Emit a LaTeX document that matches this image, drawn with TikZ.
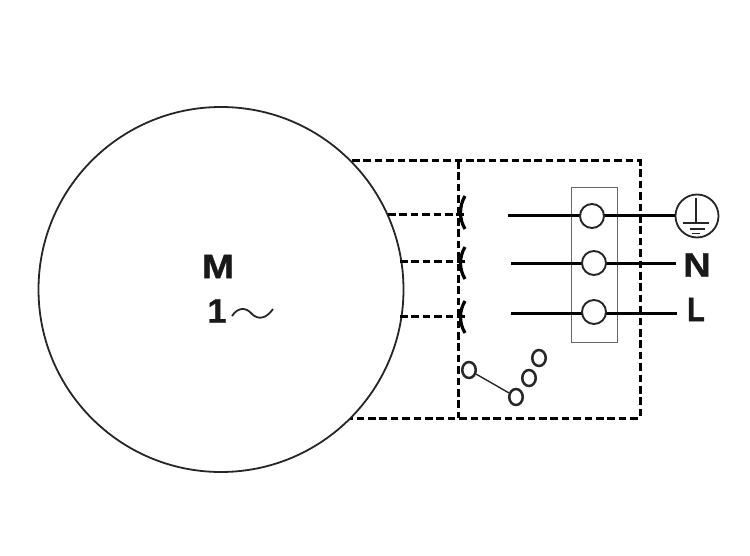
\documentclass[tikz,border=0pt]{standalone}
\usepackage{fontspec}
\setmainfont{Liberation Sans}[BoldFeatures={FakeBold=1}]
\usetikzlibrary{shapes.geometric}
\tikzset{
  lead/.style={line width=3pt,dash pattern=on 7.6pt off 3.8pt},
  wire/.style={line width=3.2pt},
  thin wire/.style={line width=1.2pt,draw=black!85},
  terminal/.style={circle,draw=black!85,line width=1.9pt,fill=white,minimum size=24pt,inner sep=0pt},
  contact/.style={ellipse,draw=black!85,line width=2.5pt,fill=white,minimum width=13.5pt,minimum height=16pt,inner sep=0pt},
  label/.style={font=\bfseries\fontsize{34pt}{34pt}\selectfont,inner sep=0pt,text=black!90},
  plug/.style={line width=3.2pt}
}
\begin{document}
\begin{tikzpicture}[x=1pt,y=-1pt]
  \useasboundingbox (0,0) rectangle (750,556);
  % housing
  \coordinate (tl) at (352,161);
  \coordinate (tm) at (458,161);
  \coordinate (tr) at (640,161);
  \coordinate (br) at (640,418);
  \coordinate (bm) at (458,418);
  \coordinate (bl) at (350,418);
  \draw[lead] (tl) -- (tr) -- (br) -- (bl);
  \draw[lead] (tm) -- (bm);
  % motor
  \node[circle,draw=black!85,line width=1.8pt,fill=white,minimum size=365pt,inner sep=0pt] (motor) at (221,289.5) {};
  \node[label] (m) at (218,266.5) {\scalebox{1.14}[1]{M}};
  \node[label] (one) at (217,311) {1};
  \coordinate (t0) at (232,316);
  \coordinate (t1) at (273,309);
  \draw[line width=1.8pt,black!85] (t0) .. controls (238,307) and (246,307) .. (252,314) .. controls (258,320) and (266,319) .. (t1);
  % plugs
  \foreach \name/\y/\xa/\ya/\yb in {pa/215/388/196/229,pb/262/400/247/279,pc/316/400/301/333} {
    \coordinate (\name) at (465,\y);
    \coordinate (\name l) at (\xa,\y);
    \draw[lead] (\name l) -- (\name);
    \draw[plug] (465,\ya) .. controls (459,\ya+10) and (459,\yb-10) .. (465,\yb);
  }
  % terminal strip
  \node[draw=black!60,line width=1pt,minimum width=46pt,minimum height=154pt,inner sep=0pt] (strip) at (594,265) {};
  \coordinate (wa) at (508,215.5);
  \coordinate (wb) at (511,263.5);
  \coordinate (wc) at (511,313.5);
  \coordinate (eb) at (676,263.5);
  \coordinate (ec) at (677,313.5);
  \node[circle,draw=black!85,line width=1.8pt,fill=white,minimum size=43pt,inner sep=0pt] (earth) at (697,216) {};
  \draw[wire] (wa) -- (earth.west |- wa);
  \draw[wire] (wb) -- (eb);
  \draw[wire] (wc) -- (ec);
  \node[terminal] (ta) at (592,216) {};
  \node[terminal] (tb) at (594,263) {};
  \node[terminal] (tc) at (594,312) {};
  \draw[thin wire] (696,198) -- (696,223);
  \draw[thin wire] (683,223) -- (709,223);
  \draw[thin wire] (690,229) -- (705,229);
  \draw[thin wire] (692,233.5) -- (700,233.5);
  \node[label] (n) at (697,265) {\scalebox{1.12}[1]{N}};
  \node[label] (l) at (696,309.5) {\scalebox{.85}[1]{L}};
  % switch
  \node[contact] (sa) at (469,370) {};
  \node[contact] (sb) at (516,397) {};
  \node[contact] (sc) at (529,378) {};
  \node[contact] (sd) at (539,358) {};
  \draw[thin wire,line width=1.4pt] (sa) -- (sb);
\end{tikzpicture}
\end{document}
